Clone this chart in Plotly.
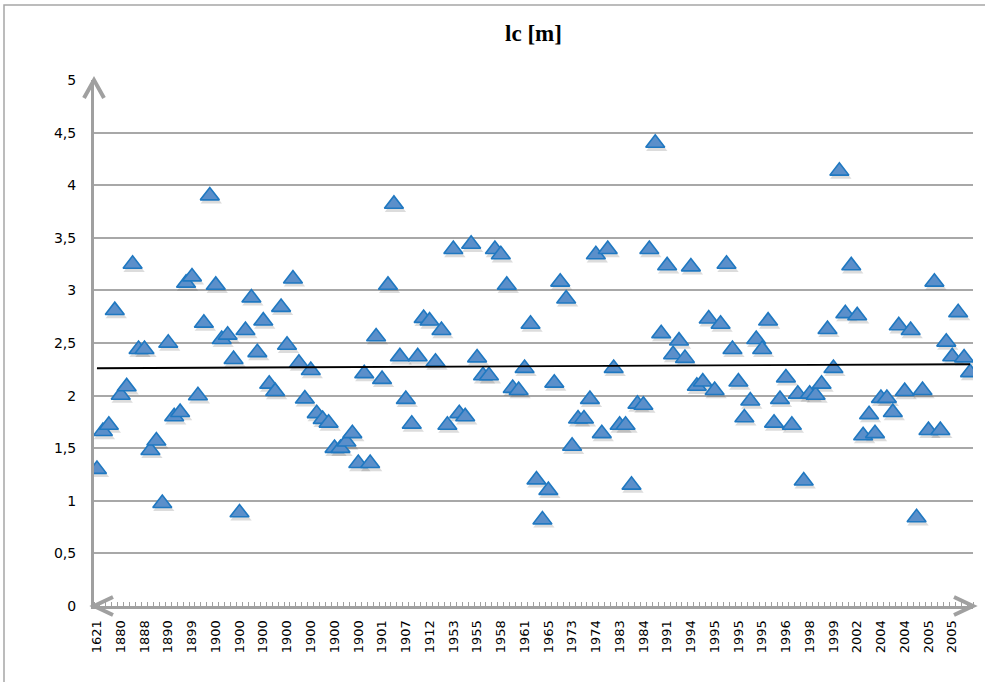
import numpy as np
import plotly.graph_objects as go

# ---- data ----
values = [
    1.30, 1.66, 1.72, 2.81, 2.005, 2.085, 3.25, 2.44, 2.44, 1.48,
    1.57, 0.976, 2.50, 1.80, 1.84, 3.07, 3.13, 2.00, 2.69, 3.90,
    3.05, 2.535, 2.576, 2.345, 0.887, 2.62, 2.93, 2.41, 2.71, 2.11,
    2.04, 2.84, 2.48, 3.11, 2.31, 1.97, 2.24, 1.83, 1.775, 1.74,
    1.50, 1.50, 1.56, 1.64, 1.356, 2.21, 1.356, 2.56, 2.155, 3.05,
    3.82, 2.37, 1.965, 1.73, 2.37, 2.735, 2.71, 2.32, 2.62, 1.72,
    3.39, 1.83, 1.80, 3.44, 2.36, 2.19, 2.19, 3.39, 3.34, 3.05,
    2.07, 2.05, 2.26, 2.68, 1.20, 0.82, 1.10, 2.12, 3.08, 2.92,
    1.52, 1.78, 1.78, 1.965, 3.34, 1.64, 3.39, 2.26, 1.72, 1.72,
    1.15, 1.92, 1.91, 3.39, 4.40, 2.59, 3.235, 2.39, 2.52, 2.355,
    3.225, 2.09, 2.13, 2.73, 2.05, 2.68, 3.25, 2.44, 2.13, 1.79,
    1.95, 2.535, 2.44, 2.71, 1.74, 1.965, 2.17, 1.72, 2.015, 1.19,
    2.015, 2.005, 2.11, 2.63, 2.26, 4.135, 2.78, 3.235, 2.76, 1.62,
    1.82, 1.64, 1.975, 1.975, 1.84, 2.665, 2.04, 2.62, 0.84, 2.05,
    1.67, 3.08, 1.67, 2.51, 2.37, 2.79, 2.36, 2.22,
]

tick_labels = [
    "1621", "1880", "1888", "1890", "1899",
    "1900", "1900", "1900", "1900", "1900", "1900", "1900",
    "1901", "1907", "1912", "1953", "1955", "1958", "1961", "1965",
    "1973", "1974", "1983", "1984", "1991", "1994", "1995", "1995",
    "1995", "1996", "1998", "1999", "2002", "2004", "2004", "2005", "2005",
]
label_step = 4
title_text = "lc [m]"

# ---- derived ----
n = len(values)
idx = np.arange(n)
vals = np.array(values)
tick_positions = idx[::label_step][:len(tick_labels)]
slope, intercept = np.polyfit(idx, vals, 1)
trend = slope * idx + intercept

W, H = 985, 682
ML, MR, MT, MB = 94, 12, 80, 76
PW, PH = W - ML - MR, H - MT - MB

def fx(p):
    return p / PW

def fy(p):
    return p / PH

AX = "#a0a0a0"
GRID = "#a8a8a8"

fig = go.Figure()

# soft shadow under the markers
fig.add_trace(go.Scatter(
    x=idx + 0.25, y=vals - 0.03, mode="markers", hoverinfo="skip",
    marker=dict(symbol="triangle-up", size=18.5, color="rgba(60,60,60,0.18)",
                line=dict(width=0)),
    showlegend=False,
))

fig.add_trace(go.Scatter(
    x=idx, y=vals, mode="markers",
    marker=dict(symbol="triangle-up", size=16.5, color="#5B8FCA",
                line=dict(color="#1F78C1", width=1.6)),
    showlegend=False,
))

fig.add_trace(go.Scatter(
    x=idx, y=trend, mode="lines",
    line=dict(color="black", width=1.8),
    showlegend=False, hoverinfo="skip",
))

arrow_style = dict(color=AX, width=4)
shapes = [
    # outer frame
    dict(type="rect", xref="paper", yref="paper",
         x0=fx(4 - ML), x1=1.1, y0=-0.3, y1=1 + fy(MT - 5),
         line=dict(color="#a6a6a6", width=1.5), layer="below"),
    # y axis top arrow
    dict(type="path", xref="paper", yref="paper",
         path=f"M {-fx(10)},{1 - fy(18)} L 0,1 L {fx(10)},{1 - fy(18)}",
         line=arrow_style),
    # x axis left arrow
    dict(type="path", xref="paper", yref="paper",
         path=f"M {fx(19)},{fy(9)} L 0,0 L {fx(19)},{-fy(9)}",
         line=arrow_style),
    # x axis right arrow
    dict(type="path", xref="paper", yref="paper",
         path=f"M {1 - fx(19)},{fy(9)} L 1,0 L {1 - fx(19)},{-fy(9)}",
         line=arrow_style),
]

fig.update_layout(
    width=W, height=H, autosize=False,
    margin=dict(l=ML, r=MR, t=MT, b=MB, pad=0),
    paper_bgcolor="white", plot_bgcolor="white",
    separators=", ",
    title=dict(text=f"<b>{title_text}</b>", x=(ML + PW / 2) / W, xanchor="center",
               y=1 - 33 / H, yanchor="middle",
               font=dict(family="Liberation Serif", size=23, color="black")),
    shapes=shapes,
    xaxis=dict(
        range=[-0.5, n - 0.5], showgrid=False, zeroline=False,
        tickmode="array", tickvals=tick_positions, ticktext=tick_labels,
        tickangle=-90, ticks="", ticklabelstandoff=6,
        tickfont=dict(family="DejaVu Sans", size=13, color="black"),
        showline=True, linecolor=AX, linewidth=3,
        minor=dict(ticks="inside", tickmode="linear", tick0=-0.5, dtick=1,
                   ticklen=4, tickwidth=1, tickcolor=AX, showgrid=False),
    ),
    yaxis=dict(
        range=[0, 5], dtick=0.5, tick0=0, showgrid=True, gridcolor=GRID,
        gridwidth=1.5, zeroline=False, ticks="", ticklabelstandoff=12,
        tickfont=dict(family="DejaVu Sans", size=14, color="black"),
        showline=True, linecolor=AX, linewidth=3,
    ),
)

fig.write_html("out.html", config={"displayModeBar": False},
               post_script="document.body.style.margin='0';")
